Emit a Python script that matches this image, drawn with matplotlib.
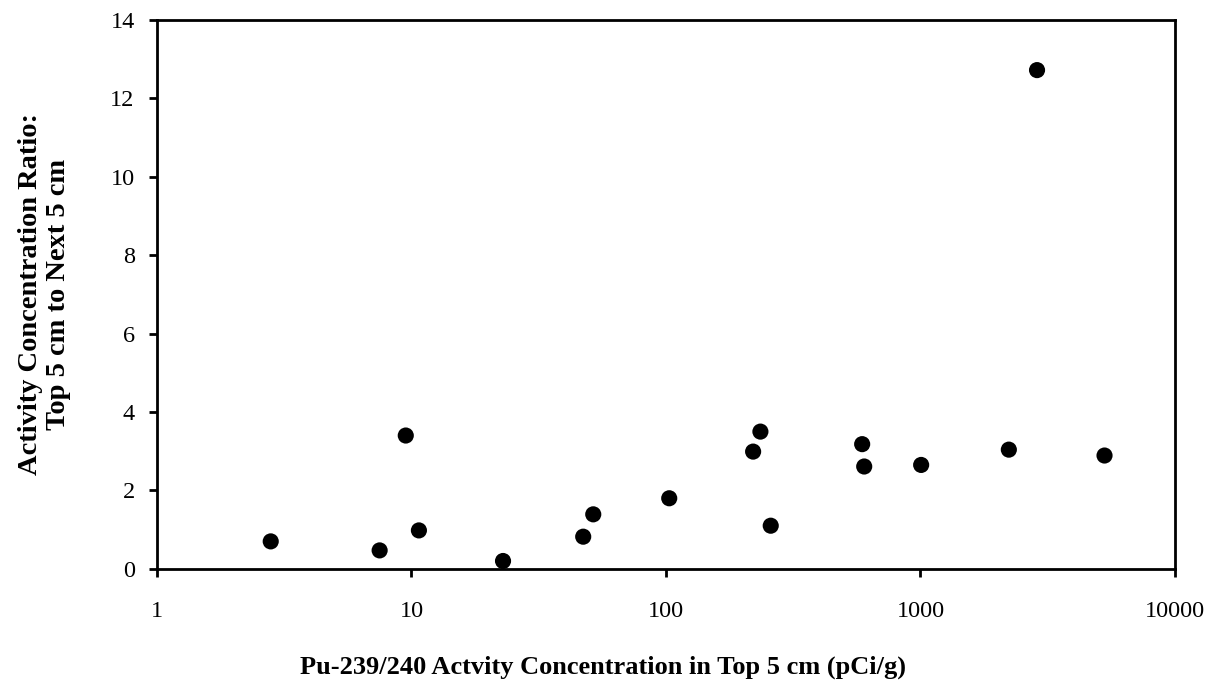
import matplotlib
matplotlib.use("Agg")
import matplotlib.pyplot as plt
from matplotlib.ticker import FixedLocator, FixedFormatter, NullLocator

# Pu-239/240 in top 5 cm (pCi/g) vs ratio top 5 cm / next 5 cm
pu_top = [2.8, 7.5, 9.5, 10.7, 22.9, 47.3, 51.8, 103, 220, 235, 258,
          590, 601, 1006, 2224, 2870, 5285]
ratio = [0.70, 0.47, 3.40, 0.98, 0.20, 0.82, 1.39, 1.80, 2.99, 3.50, 1.10,
         3.18, 2.61, 2.65, 3.04, 12.72, 2.89]

x_ticks = [1, 10, 100, 1000, 10000]
x_tick_labels = ["1", "10", "100", "1000", "10000"]
y_ticks = [0, 2, 4, 6, 8, 10, 12, 14]

plt.rcParams['font.family'] = ['Liberation Serif', 'DejaVu Serif']

fig = plt.figure(figsize=(12.07, 6.87), dpi=100)
ax = fig.add_axes([0.130, 0.172, 0.8435, 0.799])

ax.scatter(pu_top, ratio, s=135, color='black', edgecolors='none', zorder=3, clip_on=False)

ax.set_xscale('log')
ax.set_xlim(1, 10000)
ax.set_ylim(0, 14)
ax.xaxis.set_major_locator(FixedLocator(x_ticks))
ax.xaxis.set_major_formatter(FixedFormatter(x_tick_labels))
ax.xaxis.set_minor_locator(NullLocator())
ax.set_yticks(y_ticks)

for s in ax.spines.values():
    s.set_linewidth(2)
    s.set_color('black')

ax.tick_params(axis='both', which='major', direction='out', length=6, width=2,
               labelsize=17.5, colors='black')
ax.tick_params(axis='x', pad=17)
ax.tick_params(axis='y', pad=10)

ax.set_ylabel("Activity Concentration Ratio:\nTop 5 cm to Next 5 cm",
              fontsize=20.5, fontweight='bold', linespacing=1.2, labelpad=28)
fig.text(0.5, 0.029, "Pu-239/240 Actvity Concentration in Top 5 cm (pCi/g)",
         ha='center', va='center', fontsize=19, fontweight='bold')

fig.savefig("out.png", dpi=100)
